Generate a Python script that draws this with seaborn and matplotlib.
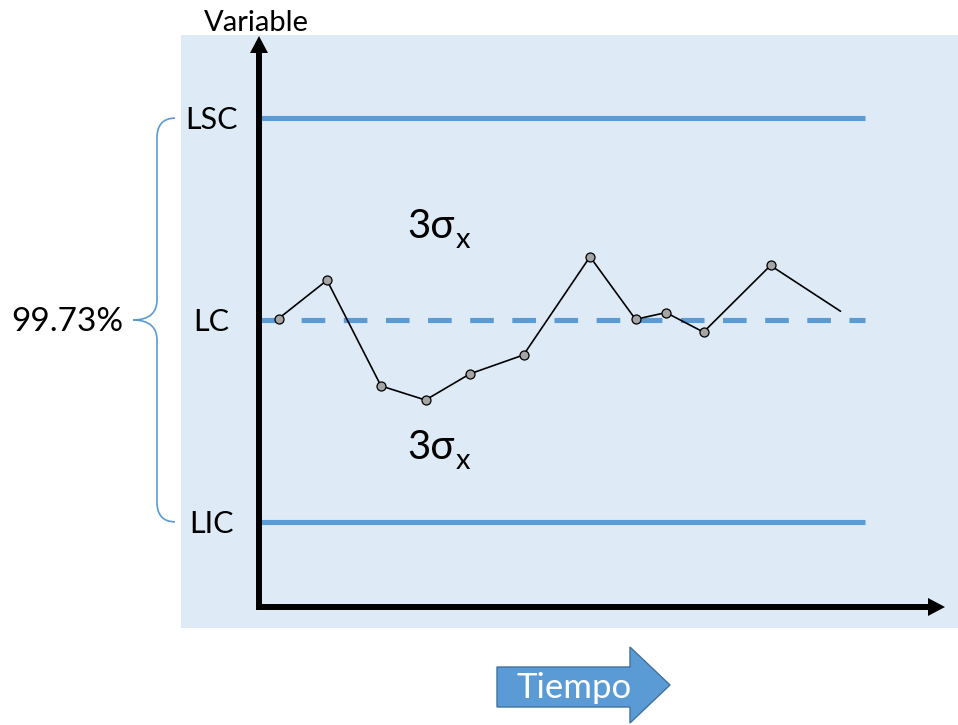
import matplotlib
matplotlib.use("Agg")
import matplotlib.pyplot as plt
import seaborn as sns
import numpy as np
import pandas as pd
from matplotlib.patches import Rectangle, Polygon, PathPatch
from matplotlib.path import Path

# ---------------- data ----------------
tiempo = [0.39, 1.36, 2.44, 3.33, 4.22, 5.29, 6.62, 7.53, 8.14, 8.89, 10.23, 11.63]
variable = [0.02, 0.59, -0.98, -1.19, -0.80, -0.52, 0.94, 0.01, 0.11, -0.18, 0.81, 0.13]
limit_names = ["LSC", "LC", "LIC"]
limit_values = [3.0, 0.0, -3.0]
line_end = 12.12
x_max = 13.72
y_min, y_max = -4.266, 4.221
coverage_label = "99.73%"
sigma_label = "3σ"
sigma_sub = "x"
y_title = "Variable"
x_title = "Tiempo"

BLUE = "#5B9BD5"
BG = "#DEEBF7"

W, H = 958, 725
sns.set_theme(style="white")
plt.rcParams['font.family'] = ['Lato', 'DejaVu Sans']

fig = plt.figure(figsize=(W / 100, H / 100), dpi=100)

# background (pixel-coordinate) layer
bg = fig.add_axes([0, 0, 1, 1], zorder=0)
bg.set_xlim(0, W)
bg.set_ylim(H, 0)
bg.axis('off')
bg.add_patch(Rectangle((181, 35), W - 181, 628 - 35, facecolor=BG, edgecolor='none'))

# main data axes
ax_left, ax_bottom, ax_right, ax_top = 259, 607, 945, 36
ax = fig.add_axes([ax_left / W, (H - ax_bottom) / H, (ax_right - ax_left) / W, (ax_bottom - ax_top) / H], zorder=1)
ax.patch.set_alpha(0)
ax.set_xlim(0, x_max)
ax.set_ylim(y_min, y_max)
ax.axis('off')

# control limits
for name, val in zip(limit_names, limit_values):
    if name == "LC":
        ax.plot([0, line_end], [val, val], color=BLUE, lw=3.7, dashes=(4.6, 3.6),
                dash_capstyle='butt', zorder=2)
    else:
        ax.plot([0, line_end], [val, val], color=BLUE, lw=3.7, solid_capstyle='butt', zorder=2)
    ax.annotate(name, xy=(0, val), xytext=(-48, -11), textcoords='offset pixels',
                ha='center', va='baseline', fontsize=22, color='black')

df = pd.DataFrame({"Tiempo": tiempo, "Variable": variable})
sns.lineplot(data=df, x="Tiempo", y="Variable", ax=ax, color='black', lw=1.2, zorder=3)
sns.scatterplot(data=df.iloc[:-1], x="Tiempo", y="Variable", ax=ax, s=42,
                color='#A5A5A5', edgecolor='black', linewidth=0.9, zorder=4)
ax.axis('off')

# helper: data y -> pixel y
def ypix(v):
    return H - ax.transData.transform((0, v))[1]

# brace
yt, ym, yb = ypix(limit_values[0]), ypix(limit_values[1]), ypix(limit_values[2])
xe, xv, xt = 175, 157, 133
verts = [(xe, yt), (162, yt), (xv, yt + 8), (xv, yt + 20),
         (xv, ym - 20),
         (xv, ym - 8), (150, ym), (xt, ym),
         (150, ym), (xv, ym + 8), (xv, ym + 20),
         (xv, yb - 20),
         (xv, yb - 8), (162, yb), (xe, yb)]
codes = [Path.MOVETO, Path.CURVE4, Path.CURVE4, Path.CURVE4,
         Path.LINETO,
         Path.CURVE4, Path.CURVE4, Path.CURVE4,
         Path.CURVE4, Path.CURVE4, Path.CURVE4,
         Path.LINETO,
         Path.CURVE4, Path.CURVE4, Path.CURVE4]
bg.add_patch(PathPatch(Path(verts, codes), facecolor='none', edgecolor=BLUE, lw=1.2))
bg.text(67, ym + 11, coverage_label, ha='center', va='baseline', fontsize=24, color='black')

# sigma labels
for base in (238, 459):
    bg.text(407, base, sigma_label, ha='left', va='baseline', fontsize=29, color='black')
    bg.text(456, base + 10, sigma_sub, ha='left', va='baseline', fontsize=21, color='black')

# axis title
bg.text(256.5, 31, y_title, ha='center', va='baseline', fontsize=21, color='black')

# Tiempo block arrow
arrow_pts = [(497, 667), (630, 667), (630, 647), (670, 685), (630, 723), (630, 707), (497, 707)]
bg.add_patch(Polygon(arrow_pts, closed=True, facecolor=BLUE, edgecolor='#41719C', lw=1.0))
bg.text(517, 698, x_title, ha='left', va='baseline', fontsize=25, color='white')

# foreground arrows for axes
fg = fig.add_axes([0, 0, 1, 1], zorder=3)
fg.set_xlim(0, W)
fg.set_ylim(H, 0)
fg.patch.set_alpha(0)
fg.axis('off')
hl, hw = 17, 9
fg.plot([ax_left, ax_left], [ax_bottom + 3, ax_top + hl], color='black', lw=4.3, solid_capstyle='butt')
fg.add_patch(Polygon([(ax_left - hw, ax_top + hl), (ax_left + hw, ax_top + hl), (ax_left, ax_top)],
                     closed=True, facecolor='black', edgecolor='none'))
fg.plot([ax_left - 3, ax_right - hl], [ax_bottom, ax_bottom], color='black', lw=4.3, solid_capstyle='butt')
fg.add_patch(Polygon([(ax_right - hl, ax_bottom - hw), (ax_right - hl, ax_bottom + hw), (ax_right, ax_bottom)],
                     closed=True, facecolor='black', edgecolor='none'))

fig.savefig("out.png", dpi=100)
